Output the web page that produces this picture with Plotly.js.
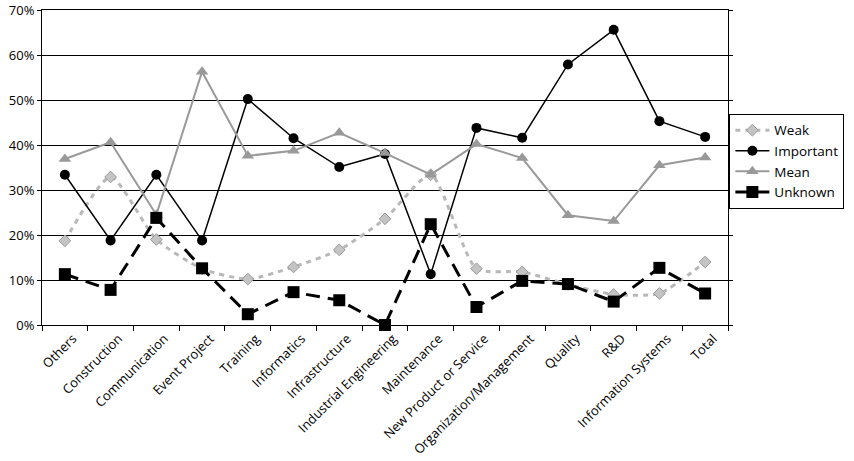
<!DOCTYPE html>
<html>
<head>
<meta charset="utf-8">
<script src="https://cdn.plot.ly/plotly-3.0.1.min.js"></script>
<style>html,body{margin:0;padding:0;background:#fff;}#chart{width:854px;height:461px;}</style>
</head>
<body>
<div id="chart"></div>
<script>
const categories = ["Others","Construction","Communication","Event Project","Training","Informatics","Infrastructure","Industrial Engineering","Maintenance","New Product or Service","Organization/Management","Quality","R&D","Information Systems","Total"];
const weak      = [18.7, 32.9, 19.0, 12.5, 10.2, 12.9, 16.7, 23.6, 33.4, 12.5, 11.8, 9.0, 6.8, 7.0, 14.0];
const important = [33.4, 18.8, 33.4, 18.8, 50.2, 41.5, 35.1, 38.0, 11.3, 43.8, 41.6, 57.9, 65.6, 45.3, 41.8];
const mean      = [36.9, 40.6, 24.5, 56.3, 37.6, 38.7, 42.7, 38.2, 33.4, 40.2, 37.1, 24.4, 23.1, 35.5, 37.2];
const unknown   = [11.3, 7.8, 23.8, 12.6, 2.4, 7.3, 5.5, 0.0, 22.4, 4.0, 9.8, 9.1, 5.2, 12.7, 7.0];
const seriesNames = ["Weak","Important","Mean","Unknown"];
const yTickVals = [0, 10, 20, 30, 40, 50, 60, 70];

const FONT = "Open Sans, Noto Sans, sans-serif";

const traces = [
  {
    x: categories, y: weak, name: seriesNames[0], type: "scatter", mode: "lines+markers",
    line: {color: "#b8b8b8", width: 3, dash: "5px,5px", shape: "spline", smoothing: 0.6},
    marker: {symbol: "diamond", size: 9, color: "#c4c4c4", line: {color: "#9a9a9a", width: 1}},
    cliponaxis: false
  },
  {
    x: categories, y: important, name: seriesNames[1], type: "scatter", mode: "lines+markers",
    line: {color: "#000000", width: 1.5},
    marker: {symbol: "circle", size: 10, color: "#000000"},
    cliponaxis: false
  },
  {
    x: categories, y: mean, name: seriesNames[2], type: "scatter", mode: "lines+markers",
    line: {color: "#999999", width: 2},
    marker: {symbol: "triangle-up", size: 11, color: "#999999"},
    cliponaxis: false
  },
  {
    x: categories, y: unknown, name: seriesNames[3], type: "scatter", mode: "lines+markers",
    line: {color: "#000000", width: 3, dash: "14px,8px"},
    marker: {symbol: "square", size: 12, color: "#000000"},
    cliponaxis: false
  }
];

const layout = {
  width: 854, height: 461,
  margin: {l: 42, r: 122, t: 10, b: 136, pad: 0},
  paper_bgcolor: "#ffffff", plot_bgcolor: "#ffffff",
  font: {family: FONT, size: 13, color: "#000"},
  showlegend: true,
  legend: {
    x: 1.002, xanchor: "left", y: 0.67, yanchor: "top",
    bordercolor: "#000", borderwidth: 1, bgcolor: "#fff",
    font: {family: FONT, size: 13.5, color: "#000"},
    tracegroupgap: 0, itemwidth: 34
  },
  xaxis: {
    type: "category", range: [-0.5, categories.length - 0.5], autorange: false,
    tickangle: -45, tickson: "boundaries",
    ticks: "outside", ticklen: 5, tickcolor: "#000",
    showline: true, linecolor: "#000", linewidth: 1, mirror: true,
    showgrid: false, zeroline: false,
    ticklabelshift: 8,
    tickfont: {family: FONT, size: 13, color: "#000"},
    fixedrange: true
  },
  yaxis: {
    range: [0, 70], autorange: false, tickmode: "array", tickvals: yTickVals,
    ticktext: yTickVals.map(v => v + "%"),
    ticks: "outside", ticklen: 4, tickcolor: "#000",
    ticklabeloverflow: "allow",
    showline: true, linecolor: "#000", linewidth: 1, mirror: "ticks",
    showgrid: true, gridcolor: "#000", gridwidth: 1, zeroline: false,
    tickfont: {family: FONT, size: 13, color: "#000"},
    fixedrange: true
  }
};

Plotly.newPlot("chart", traces, layout, {displayModeBar: false, staticPlot: true});
</script>
</body>
</html>
